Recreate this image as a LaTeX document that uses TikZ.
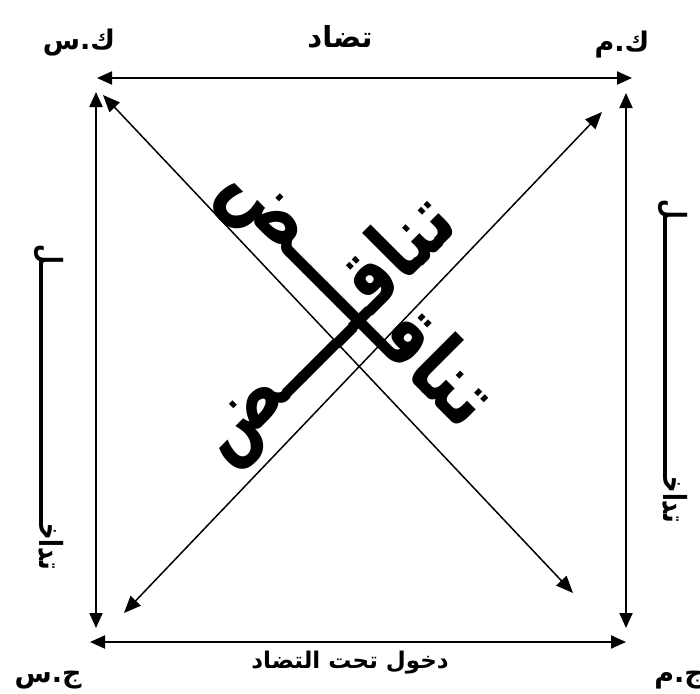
\documentclass[tikz,border=0pt]{standalone}
\usepackage{fontspec}
\usepackage{graphicx}
\usetikzlibrary{arrows.meta}
\newfontfamily\arabicfont[Script=Arabic]{DejaVu Sans}
\TeXXeTstate=1
\tikzset{
  sidearrow/.style={line width=2pt,{Triangle[length=15pt,width=13pt]}-{Triangle[length=15pt,width=13pt]}},
  diagarrow/.style={line width=1.5pt,{Triangle[length=17pt,width=14pt]}-{Triangle[length=17pt,width=14pt]}},
  lbl/.style={font=\arabicfont\bfseries\fontsize{27}{30}\selectfont,inner sep=0pt},
  bigword/.style={font=\arabicfont\bfseries\fontsize{75}{80}\selectfont,inner sep=0pt},
  sideword/.style={font=\arabicfont\bfseries\fontsize{24}{28}\selectfont,inner sep=0pt,rotate=-90}
}
\begin{document}
\begin{tikzpicture}[x=1pt,y=-1pt]
\useasboundingbox (0,0) rectangle (700,693);
% arrow end points
\coordinate (tl) at (97,78);
\coordinate (tr) at (632,78);
\coordinate (bl) at (90,642);
\coordinate (br) at (626,642);
\coordinate (lt) at (96,92);
\coordinate (lb) at (96,628);
\coordinate (rt) at (626,93);
\coordinate (rb) at (626,628);
\coordinate (d1a) at (103,95);
\coordinate (d1b) at (573,593);
\coordinate (d2a) at (602,112);
\coordinate (d2b) at (124,613);
% arrows
\draw[sidearrow] (tl) -- (tr);
\draw[sidearrow] (bl) -- (br);
\draw[sidearrow] (lt) -- (lb);
\draw[sidearrow] (rt) -- (rb);
\draw[diagarrow] (d1a) -- (d1b);
\draw[diagarrow] (d2a) -- (d2b);
% corner labels
\node[lbl] (ks) at (79,43) {\beginR ك.س\endR};
\node[lbl] (km) at (622,45) {\beginR ك.م\endR};
\node[lbl] (js) at (48,680) {\beginR ج.س\endR};
\node[lbl] (jm) at (679,680) {\beginR ج.م\endR};
% relation labels
\node[font=\arabicfont\bfseries\fontsize{29}{32}\selectfont,inner sep=0pt] (tadad) at (340,37) {\beginR تضاد\endR};
\node[font=\arabicfont\bfseries\fontsize{23}{28}\selectfont,inner sep=0pt] (dukhul) at (350,663) {\beginR دخول تحت التضاد\endR};
\node[sideword] (tadakhulL) at (49,407) {\resizebox*{325pt}{30pt}{\beginR تداخـــــــــــــــــــــــــــــــــل\endR}};
\node[sideword] (tadakhulR) at (673,361) {\resizebox*{323pt}{30pt}{\beginR تداخـــــــــــــــــــــــــــــــــل\endR}};
% contradiction words
\node[bigword,rotate=45] (tanaqud1) at (327,330) {\resizebox*{335pt}{86pt}{\beginR تناقـــــض\endR}};
\node[bigword,rotate=-45] (tanaqud2) at (356,294) {\resizebox*{345pt}{88pt}{\beginR تناقـــــض\endR}};
\end{tikzpicture}
\end{document}
